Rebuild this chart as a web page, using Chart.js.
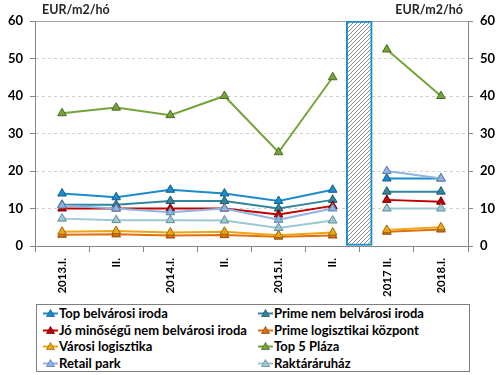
<!DOCTYPE html>
<html><head><meta charset="utf-8">
<script src="https://cdn.jsdelivr.net/npm/chart.js@4/dist/chart.umd.min.js"></script>
<style>
html,body{margin:0;padding:0;background:#fff;}
#wrap{position:relative;width:500px;height:375px;overflow:hidden;}
#cv{position:absolute;left:0;top:0;width:500px;height:300px;}
#legend{position:absolute;left:36px;top:304px;width:434px;height:68px;border:1px solid #7f7f7f;box-sizing:border-box;display:grid;grid-template-columns:215px 1fr;grid-auto-rows:16.5px;padding-left:6px;font:bold 13px Lato, sans-serif;color:#000;}
.li{display:flex;align-items:center;white-space:nowrap;}
.li svg{margin-right:1px;flex:none;}
</style></head><body>
<div id="wrap"><div id="cv"><canvas id="c"></canvas></div><div id="legend"></div></div>
<script>
// ---- data ----
const categories = ['2013.I.', 'II.', '2014.I.', 'II.', '2015.I.', 'II.', '2017 II.', '2018.I.'];
const topBelvarosiIroda      = [14, 13, 15, 14, 12, 15, 18, 18];
const primeNemBelvarosiIroda = [11, 11, 12, 12, 10, 12.3, 14.5, 14.5];
const joMinosegu             = [10, 10, 10, 10, 8.4, 10.7, 12.3, 11.8];
const primeLogisztikai       = [3, 3.1, 2.8, 2.9, 2.5, 2.8, 3.8, 4.4];
const varosiLogisztika       = [3.8, 4, 3.6, 3.8, 2.9, 3.6, 4.3, 5.0];
const top5Plaza              = [35.4, 36.9, 34.9, 40, 25, 45, 52.4, 40];
const retailPark             = [10.8, 10, 9, 10, 7, 10, 20, 18];
const raktararuhaz           = [7.3, 6.9, 6.9, 6.8, 4.8, 6.8, 10, 10];
const seriesNames = ['Top belvárosi iroda', 'Prime nem belvárosi iroda', 'Jó minőségű nem belvárosi iroda',
  'Prime logisztikai központ', 'Városi logisztika', 'Top 5 Pláza', 'Retail park', 'Raktáráruház'];
const yTicks = [0, 10, 20, 30, 40, 50, 60];
const gapPosition = 5.5;   // hatched separator between 2015 II. and 2017
const gapHeight = 60;
const unitLabel = 'EUR/m2/hó';

// ---- styles ----
const seriesData = [topBelvarosiIroda, primeNemBelvarosiIroda, joMinosegu, primeLogisztikai, varosiLogisztika, top5Plaza, retailPark, raktararuhaz];
const lineColors = ['#1B8BC9', '#31859C', '#C00000', '#E0700E', '#EDA515', '#75A33A', '#8DB4E2', '#9CC8D2'];
const markerBorders = ['#155F8C', '#1F5A69', '#7A0000', '#8E4A0A', '#9A6A0C', '#4B6B24', '#5B7FA8', '#5F8C96'];
const breakIndex = Math.floor(gapPosition);

function hatchPattern() {
  const p = document.createElement('canvas');
  p.width = 4; p.height = 4;
  const g = p.getContext('2d');
  g.fillStyle = '#fff'; g.fillRect(0, 0, 4, 4);
  g.strokeStyle = '#8a8a8a'; g.lineWidth = 1;
  g.beginPath();
  g.moveTo(0, 4); g.lineTo(4, 0);
  g.moveTo(-1, 1); g.lineTo(1, -1);
  g.moveTo(3, 5); g.lineTo(5, 3);
  g.stroke();
  return g.createPattern(p, 'repeat');
}

const N = seriesNames.length;
const datasets = seriesNames.map((name, i) => ({
  type: 'line', label: name, data: seriesData[i],
  borderColor: lineColors[i], backgroundColor: lineColors[i],
  borderWidth: 2, tension: 0,
  pointStyle: 'triangle', pointRadius: 5, pointHoverRadius: 5,
  pointBackgroundColor: lineColors[i], pointBorderColor: markerBorders[i], pointBorderWidth: 1,
  segment: { borderColor: c => c.p0DataIndex === breakIndex ? 'rgba(0,0,0,0)' : undefined },
  xAxisID: 'x', yAxisID: 'y', order: N - i
}));
datasets.push({
  type: 'bar', label: 'gap', data: [{ x: gapPosition, y: gapHeight }],
  xAxisID: 'x2', yAxisID: 'y', backgroundColor: hatchPattern(),
  borderColor: '#1B8BC9', borderWidth: 2, borderSkipped: false, barThickness: 26, order: 100
});

const tickFont = { family: 'Lato', weight: 'bold', size: 13 };

const unitTitles = {
  id: 'unitTitles',
  afterDraw(chart) {
    const { ctx, chartArea: a } = chart;
    ctx.save();
    ctx.font = 'bold 12.5px Lato';
    ctx.fillStyle = '#262626';
    ctx.textBaseline = 'middle';
    ctx.textAlign = 'left';
    ctx.fillText(unitLabel, a.left + 7, a.top - 11);
    ctx.textAlign = 'right';
    ctx.fillText(unitLabel, a.right - 5, a.top - 11);
    ctx.restore();
  }
};

const htmlLegend = {
  id: 'htmlLegend',
  afterUpdate(chart) {
    const box = document.getElementById('legend');
    box.innerHTML = '';
    chart.data.datasets.filter(d => d.type === 'line').forEach(d => {
      const item = document.createElement('div');
      item.className = 'li';
      item.innerHTML = '<svg width="15" height="10" viewBox="0 0 15 10"><line x1="0" y1="5.5" x2="15" y2="5.5" stroke="' + d.borderColor + '" stroke-width="2"/>' +
        '<polygon points="7.5,1.5 11.5,8.5 3.5,8.5" fill="' + d.pointBackgroundColor + '" stroke="' + d.pointBorderColor + '" stroke-width="0.8"/></svg>';
      const t = document.createElement('span');
      t.textContent = d.label;
      item.appendChild(t);
      box.appendChild(item);
    });
  }
};

new Chart(document.getElementById('c'), {
  type: 'line',
  data: { labels: categories, datasets },
  options: {
    responsive: true, maintainAspectRatio: false, animation: false,
    layout: { padding: { top: 21, left: 0, right: 0, bottom: 0 } },
    plugins: { legend: { display: false }, tooltip: { enabled: false } },
    scales: {
      x: {
        type: 'category', offset: true,
        grid: { offset: true, drawOnChartArea: false, drawTicks: true, tickLength: 6, tickColor: '#868686' },
        border: { color: '#868686', width: 1 },
        ticks: { autoSkip: false, maxRotation: 90, minRotation: 90, padding: 6, color: '#000',
          font: { family: 'Lato', weight: 'bold', size: 11.5 } },
        afterFit: s => { s.height = 54; }
      },
      x2: { type: 'linear', display: false, min: -0.5, max: categories.length - 0.5 },
      y: {
        position: 'left', min: yTicks[0], max: yTicks[yTicks.length - 1],
        afterBuildTicks: s => { s.ticks = yTicks.map(v => ({ value: v })); },
        ticks: { color: '#000', font: tickFont, padding: 7 },
        grid: {
          color: c => c.tick && c.tick.value === 0 ? 'rgba(0,0,0,0)' : (c.tick && c.tick.value === 60 ? '#a6a6a6' : '#d0d0d0'),
          tickColor: '#868686', tickLength: 5, tickBorderDash: []
        },
        border: { color: '#868686', width: 1, dash: c => (c.tick && c.tick.value === 60) ? [] : [3, 3] },
        afterFit: s => { s.width = 35; }
      },
      y2: {
        position: 'right', min: yTicks[0], max: yTicks[yTicks.length - 1],
        afterBuildTicks: s => { s.ticks = yTicks.map(v => ({ value: v })); },
        ticks: { color: '#000', font: tickFont, padding: 7 },
        grid: { drawOnChartArea: false, tickColor: '#868686', tickLength: 5 },
        border: { color: '#868686', width: 1 },
        afterFit: s => { s.width = 32; }
      }
    }
  },
  plugins: [unitTitles, htmlLegend]
});
</script>
</body></html>
